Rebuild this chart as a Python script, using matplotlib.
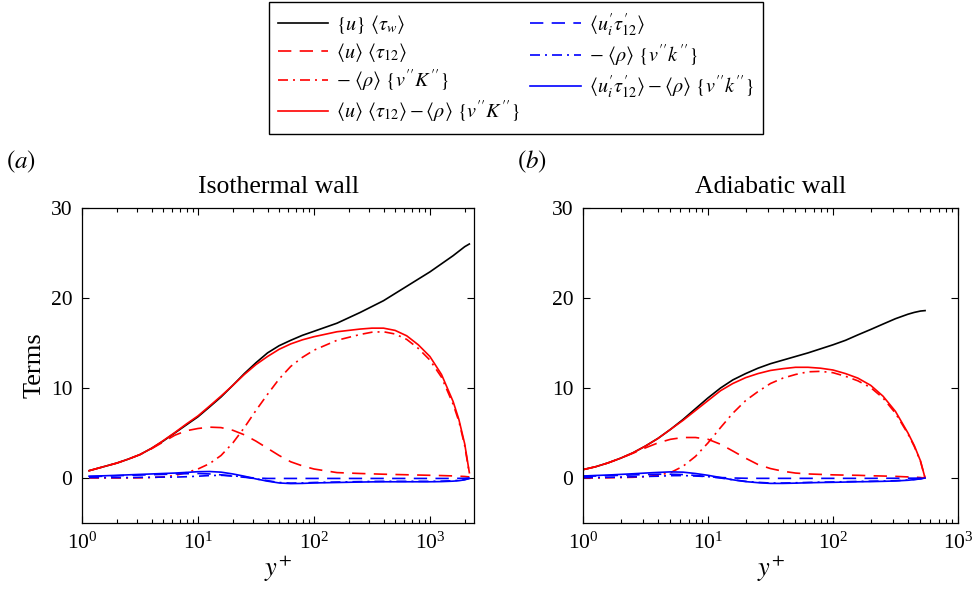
import matplotlib
matplotlib.use("Agg")
import matplotlib.pyplot as plt
from matplotlib.ticker import LogLocator, NullFormatter, FixedLocator

plt.rcParams['font.family'] = ['Liberation Serif', 'DejaVu Serif']
plt.rcParams['mathtext.fontset'] = 'stix'

# ---------------- data: isothermal wall ----------------
yp_iso = [1.15, 1.58, 2.0, 2.51, 3.16, 3.98, 5.01, 6.31, 7.94, 10.0, 12.6, 15.8, 20.0, 25.1,
          31.6, 39.8, 50.1, 63.1, 79.4, 100, 158, 251, 316, 398, 501, 631, 794, 1000, 1259,
          1585, 1778, 1995, 2188]
iso_total = [0.81, 1.3, 1.66, 2.1, 2.6, 3.3, 4.1, 5.0, 5.9, 6.8, 7.9, 9.0, 10.3, 11.6, 12.8,
             13.9, 14.7, 15.3, 15.85, 16.3, 17.2, 18.4, 19.05, 19.7, 20.5, 21.3, 22.1, 22.9,
             23.8, 24.7, 25.2, 25.7, 26.0]
iso_visc = [0.81, 1.3, 1.66, 2.1, 2.6, 3.25, 4.0, 4.75, 5.25, 5.5, 5.65, 5.6, 5.3, 4.8, 4.1,
            3.3, 2.5, 1.8, 1.35, 1.0, 0.6, 0.5, 0.46, 0.42, 0.39, 0.36, 0.33, 0.3, 0.27,
            0.23, 0.2, 0.17, 0.12]
iso_turb = [0.0, 0.0, 0.0, 0.0, 0.02, 0.05, 0.12, 0.28, 0.6, 1.0, 1.6, 2.5, 3.9, 5.6, 7.5, 9.3,
            11.0, 12.4, 13.4, 14.2, 15.3, 15.95, 16.2, 16.25, 16.0, 15.4, 14.4, 13.1, 11.2,
            8.2, 6.3, 3.6, 0.5]
iso_sum = [0.81, 1.3, 1.66, 2.1, 2.6, 3.3, 4.15, 5.05, 6.0, 6.9, 8.0, 9.1, 10.3, 11.5, 12.6,
           13.5, 14.3, 14.9, 15.35, 15.7, 16.25, 16.55, 16.65, 16.65, 16.4, 15.8, 14.8, 13.5,
           11.5, 8.5, 6.5, 3.8, 0.6]
iso_kvisc = [0.15, 0.2, 0.25, 0.3, 0.33, 0.37, 0.4, 0.45, 0.48, 0.5, 0.45, 0.35, 0.2, 0.08,
             0.0, -0.05, -0.05, -0.05, -0.05, -0.05, -0.05, -0.05, -0.05, -0.05, -0.05,
             -0.05, -0.05, -0.05, -0.05, -0.05, -0.04, -0.03, 0.0]
iso_kturb = [0.05, 0.05, 0.05, 0.05, 0.07, 0.08, 0.1, 0.1, 0.14, 0.2, 0.27, 0.3, 0.25, 0.12,
             -0.1, -0.3, -0.5, -0.57, -0.55, -0.5, -0.45, -0.4, -0.38, -0.37, -0.37, -0.37,
             -0.37, -0.37, -0.35, -0.3, -0.26, -0.17, -0.05]
iso_ksum = [0.2, 0.25, 0.3, 0.35, 0.4, 0.45, 0.5, 0.55, 0.62, 0.7, 0.72, 0.65, 0.45, 0.2,
            -0.1, -0.35, -0.55, -0.62, -0.6, -0.55, -0.5, -0.45, -0.43, -0.42, -0.42, -0.42,
            -0.42, -0.42, -0.4, -0.35, -0.3, -0.2, -0.05]

# ---------------- data: adiabatic wall ----------------
yp_adi = [1.0, 1.26, 1.58, 2.0, 2.51, 3.16, 3.98, 5.01, 6.31, 7.94, 10.0, 12.6, 15.8, 20.0,
          25.1, 31.6, 39.8, 50.1, 63.1, 79.4, 100, 126, 158, 200, 251, 316, 398, 447, 501, 545]
adi_total = [0.93, 1.25, 1.67, 2.2, 2.8, 3.55, 4.4, 5.4, 6.5, 7.7, 8.9, 10.0, 10.9, 11.6,
             12.2, 12.7, 13.1, 13.5, 13.9, 14.35, 14.8, 15.3, 15.9, 16.5, 17.1, 17.7, 18.2,
             18.4, 18.55, 18.6]
adi_visc = [0.93, 1.25, 1.67, 2.2, 2.75, 3.35, 3.9, 4.3, 4.5, 4.5, 4.3, 3.75, 3.0, 2.2, 1.5,
            1.05, 0.75, 0.55, 0.45, 0.4, 0.35, 0.32, 0.3, 0.25, 0.22, 0.18, 0.12, 0.1, 0.05,
            0.0]
adi_turb = [0.0, 0.0, 0.02, 0.05, 0.08, 0.15, 0.3, 0.6, 1.3, 2.4, 3.9, 5.6, 7.2, 8.6, 9.6,
            10.5, 11.1, 11.5, 11.8, 11.85, 11.7, 11.3, 10.8, 10.05, 8.9, 7.2, 4.9, 3.5, 1.85,
            0.0]
adi_sum = [0.93, 1.25, 1.67, 2.2, 2.8, 3.55, 4.4, 5.4, 6.4, 7.5, 8.6, 9.7, 10.5, 11.15, 11.6,
           11.95, 12.15, 12.3, 12.3, 12.2, 12.0, 11.6, 11.1, 10.3, 9.1, 7.4, 5.0, 3.6, 1.9,
           0.0]
adi_kvisc = [0.18, 0.22, 0.26, 0.3, 0.34, 0.38, 0.42, 0.42, 0.38, 0.28, 0.15, 0.05, 0.0,
             -0.03, -0.04, -0.04, -0.04, -0.04, -0.04, -0.04, -0.04, -0.04, -0.04, -0.04,
             -0.03, -0.03, -0.02, -0.02, -0.01, 0.0]
adi_kturb = [0.04, 0.06, 0.07, 0.1, 0.13, 0.17, 0.2, 0.26, 0.27, 0.22, 0.15, 0.0, -0.2,
             -0.37, -0.48, -0.56, -0.56, -0.53, -0.49, -0.46, -0.44, -0.41, -0.38, -0.36,
             -0.34, -0.3, -0.23, -0.16, -0.09, 0.0]
adi_ksum = [0.22, 0.28, 0.33, 0.4, 0.47, 0.55, 0.62, 0.68, 0.65, 0.5, 0.3, 0.05, -0.2, -0.4,
            -0.52, -0.6, -0.6, -0.57, -0.53, -0.5, -0.48, -0.45, -0.42, -0.4, -0.37, -0.33,
            -0.25, -0.18, -0.1, 0.0]

labels = [r'$\{u\}\ \langle\tau_w\rangle$',
          r'$\langle u\rangle\ \langle\tau_{12}\rangle$',
          r'$-\ \langle\rho\rangle\ \{v^{\prime\prime}K^{\prime\prime}\}$',
          r'$\langle u\rangle\ \langle\tau_{12}\rangle-\langle\rho\rangle\ \{v^{\prime\prime}K^{\prime\prime}\}$',
          r'$\langle u_i^{\prime}\tau_{12}^{\prime}\rangle$',
          r'$-\ \langle\rho\rangle\ \{v^{\prime\prime}k^{\prime\prime}\}$',
          r'$\langle u_i^{\prime}\tau_{12}^{\prime}\rangle-\langle\rho\rangle\ \{v^{\prime\prime}k^{\prime\prime}\}$']
titles = ['Isothermal wall', 'Adiabatic wall']
panel_tags = [r'$(a)$', r'$(b)$']

RED = '#ff0000'
BLUE = '#0000ff'
lw = 1.2
dash = (0, (8, 5))
dashdot = (0, (6, 3, 1.2, 3))

fig = plt.figure(figsize=(9.74, 5.96), dpi=100)
ax1 = fig.add_axes([82/974, 1-523/596, 392/974, 315/596])
ax2 = fig.add_axes([583/974, 1-523/596, 375/974, 315/596])

def draw(ax, x, tot, visc, turb, s, kv, kt, ks, xmax, title, tag, tagx):
    h = []
    h += ax.plot(x, tot, color='black', lw=lw, ls='-')
    h += ax.plot(x, visc, color=RED, lw=lw, ls=dash)
    h += ax.plot(x, turb, color=RED, lw=lw, ls=dashdot)
    h += ax.plot(x, s, color=RED, lw=lw, ls='-')
    h += ax.plot(x, kv, color=BLUE, lw=lw, ls=dash)
    h += ax.plot(x, kt, color=BLUE, lw=lw, ls=dashdot)
    h += ax.plot(x, ks, color=BLUE, lw=lw, ls='-')
    ax.set_xscale('log')
    ax.set_xlim(1, xmax)
    ax.set_ylim(-5, 30)
    ax.yaxis.set_major_locator(FixedLocator([0, 10, 20, 30]))
    ax.xaxis.set_major_locator(LogLocator(base=10, numticks=10))
    ax.xaxis.set_minor_locator(LogLocator(base=10, subs=range(2, 10), numticks=20))
    ax.xaxis.set_minor_formatter(NullFormatter())
    ax.tick_params(which='both', direction='in', top=True, right=True, labelsize=15.5,
                   width=0.8, colors='black')
    ax.tick_params(which='major', length=5, pad=7)
    ax.tick_params(which='minor', length=3)
    for sp in ax.spines.values():
        sp.set_linewidth(0.9)
    ax.set_title(title, fontsize=18.5, pad=11)
    ax.set_xlabel(r'$y^{+}$', fontsize=19, labelpad=0)
    fig.text(tagx, 1-162/596, tag, fontsize=18, ha='left', va='center')
    return h

handles = draw(ax1, yp_iso, iso_total, iso_visc, iso_turb, iso_sum, iso_kvisc, iso_kturb,
               iso_ksum, 2400, titles[0], panel_tags[0], 6/974)
draw(ax2, yp_adi, adi_total, adi_visc, adi_turb, adi_sum, adi_kvisc, adi_kturb, adi_ksum,
     1000, titles[1], panel_tags[1], 517/974)
ax1.set_ylabel('Terms', fontsize=19, labelpad=4)

leg = fig.legend(handles, labels, loc='upper center', bbox_to_anchor=(516/974, 1 - 2/596),
                 ncol=2, fontsize=14.5, frameon=True, fancybox=False, framealpha=1,
                 edgecolor='black', handlelength=2.5, columnspacing=0.5,
                 labelspacing=0.22, borderpad=0.45, handletextpad=0.4, borderaxespad=0)
leg.get_frame().set_linewidth(1.0)

fig.savefig('out.png', dpi=100)
